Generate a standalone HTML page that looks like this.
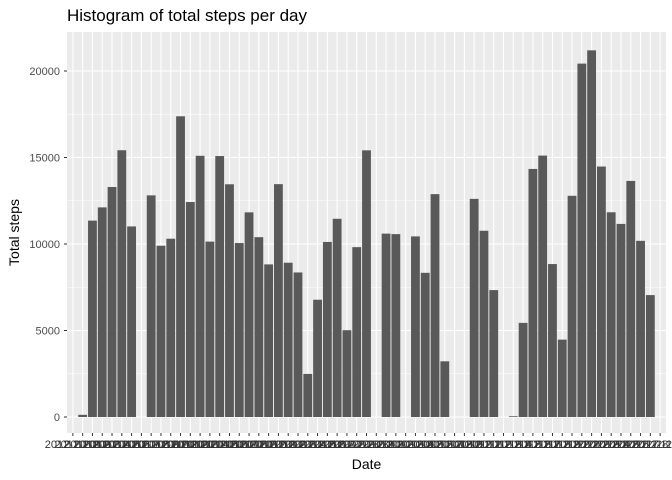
<!DOCTYPE html>
<html><head><meta charset="utf-8"><style>
body{margin:0;background:#fff;}
svg{display:block;font-family:"Liberation Sans",sans-serif;}
</style></head><body>
<svg id="chart" width="672" height="480" viewBox="0 0 672 480"></svg>
<script>
const dates = [];
for (let d = 1; d <= 31; d++) dates.push('2012-10-' + String(d).padStart(2,'0'));
for (let d = 1; d <= 30; d++) dates.push('2012-11-' + String(d).padStart(2,'0'));
const steps = [0,126,11352,12116,13294,15420,11015,0,12811,9900,10304,17382,12426,15098,10139,15084,13452,10056,11829,10395,8821,13460,8918,8355,2492,6778,10119,11458,5018,9819,15414,0,10600,10571,0,10439,8334,12883,3219,0,0,12608,10765,7336,0,41,5441,14339,15110,8841,4472,12787,20427,21194,14478,11834,11162,13646,10183,7047,0];
const yTicks = [0,5000,10000,15000,20000];
const yMinor = [2500,7500,12500,17500];

const NS='http://www.w3.org/2000/svg';
const svg=document.getElementById('chart');
function mk(tag,attrs,parent){const e=document.createElementNS(NS,tag);for(const k in attrs)e.setAttribute(k,attrs[k]);(parent||svg).appendChild(e);return e;}
const L=67,R=666,T=32,B=433;
const y0=417, pxPer=346/20000;
const yS=v=>y0-v*pxPer;
const slot=(R-L)/(dates.length-1+1.2);
const xS=i=>L+0.6*slot+i*slot;

const panel=mk('rect',{x:L,y:T,width:R-L,height:B-T,fill:'#ebebeb'});


yMinor.forEach(v=>{const l=mk('line',{x1:L,x2:R,y1:yS(v),y2:yS(v),stroke:'#fff','stroke-width':0.5});

});
yTicks.forEach(v=>{const l=mk('line',{x1:L,x2:R,y1:yS(v),y2:yS(v),stroke:'#fff','stroke-width':1.1});

});
dates.forEach((d,i)=>{const l=mk('line',{x1:xS(i),x2:xS(i),y1:T,y2:B,stroke:'#fff','stroke-width':1.1});

});
steps.forEach((v,i)=>{if(v<=0)return;const w=slot*0.9;
const r=mk('rect',{x:xS(i)-w/2,y:yS(v),width:w,height:yS(0)-yS(v),fill:'#595959'});

});
yTicks.forEach(v=>{
const t=mk('text',{x:L-7,y:yS(v)+4,'text-anchor':'end','font-size':11,fill:'#4d4d4d'});t.textContent=v;


const k=mk('line',{x1:L-3,x2:L,y1:yS(v),y2:yS(v),stroke:'#333','stroke-width':1});

});
dates.forEach((d,i)=>{
const k=mk('line',{x1:xS(i),x2:xS(i),y1:B,y2:B+3,stroke:'#333','stroke-width':1});


const t=mk('text',{x:xS(i),y:448,'text-anchor':'middle','font-size':11,fill:'#333'});t.textContent=d;

});
let t=mk('text',{x:(L+R)/2,y:469,'text-anchor':'middle','font-size':14,fill:'#000'});t.textContent='Date';


t=mk('text',{x:19,y:(T+B)/2,'text-anchor':'middle','font-size':14,fill:'#000',transform:'rotate(-90 19 '+((T+B)/2)+')'});t.textContent='Total steps';


t=mk('text',{x:L,y:21,'font-size':17,fill:'#000'});t.textContent='Histogram of total steps per day';


</script>
</body></html>
